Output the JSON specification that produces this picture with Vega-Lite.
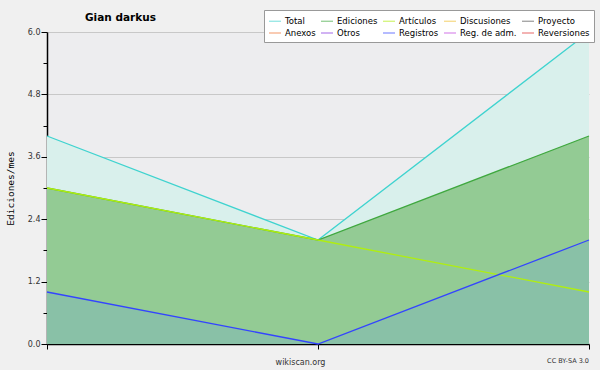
{
  "$schema": "https://vega.github.io/schema/vega-lite/v6.json",
  "autosize": "none",
  "width": 542,
  "height": 312,
  "padding": {"left": 47, "top": 32, "right": 11, "bottom": 26},
  "background": "#f0f0f0",
  "config": {
    "view": {"fill": "#ededef", "stroke": null},
    "font": "DejaVu Sans"
  },
  "title": {
    "text": "Gian darkus",
    "anchor": "start",
    "frame": "group",
    "dx": 38,
    "offset": -24,
    "baseline": "bottom",
    "fontSize": 10.5,
    "fontWeight": "bold",
    "color": "#000000"
  },
  "data": {
    "values": [
      {"serie": "Total", "x": 0, "v": 4},
      {"serie": "Total", "x": 1, "v": 2},
      {"serie": "Total", "x": 2, "v": 6},
      {"serie": "Ediciones", "x": 0, "v": 3},
      {"serie": "Ediciones", "x": 1, "v": 2},
      {"serie": "Ediciones", "x": 2, "v": 4},
      {"serie": "Artículos", "x": 0, "v": 3},
      {"serie": "Artículos", "x": 1, "v": 2},
      {"serie": "Artículos", "x": 2, "v": 1},
      {"serie": "Registros", "x": 0, "v": 1},
      {"serie": "Registros", "x": 1, "v": 0},
      {"serie": "Registros", "x": 2, "v": 2}
    ]
  },
  "encoding": {
    "x": {
      "field": "x",
      "type": "quantitative",
      "scale": {"domain": [0, 2], "nice": false, "zero": false},
      "axis": {
        "values": [0, 1, 2],
        "labels": false,
        "grid": false,
        "ticks": true,
        "tickSize": 5,
        "tickColor": "#000000",
        "domainColor": "#000000",
        "domainWidth": 1.5,
        "title": "wikiscan.org",
        "titleFont": "DejaVu Sans",
        "titleFontWeight": "normal",
        "titleFontSize": 8,
        "titleColor": "#333333",
        "titleX": 253,
        "titleAnchor": "middle",
        "titlePadding": 9
      }
    },
    "y": {
      "field": "v",
      "type": "quantitative",
      "scale": {"domain": [0, 6], "nice": false},
      "axis": {
        "values": [0, 0.6, 1.2, 1.8, 2.4, 3.0, 3.6, 4.2, 4.8, 5.4, 6.0],
        "labelExpr": "abs(datum.value/1.2 - round(datum.value/1.2)) < 0.01 ? format(datum.value, '.1f') : ''",
        "labelFontSize": 8,
        "labelColor": "#333333",
        "labelPadding": 1,
        "grid": true,
        "gridColor": "#c8c8c8",
        "gridOpacity": {"condition": {"test": "abs(datum.value/1.2 - round(datum.value/1.2)) < 0.01 && datum.value > 0", "value": 1}, "value": 0},
        "tickColor": "#000000",
        "tickSize": {"condition": {"test": "abs(datum.value/1.2 - round(datum.value/1.2)) < 0.01", "value": 6}, "value": 4},
        "domainColor": "#000000",
        "domainWidth": 1.5,
        "title": "Ediciones/mes",
        "titleFont": "DejaVu Sans Mono",
        "titleFontWeight": "normal",
        "titleFontSize": 9.5,
        "titleColor": "#000000",
        "titlePadding": 12
      }
    }
  },
  "layer": [
    {
      "transform": [{"filter": "datum.serie === 'Total'"}],
      "mark": {"type": "area", "color": "#d9f0ec", "opacity": 1}
    },
    {
      "transform": [{"filter": "datum.serie === 'Ediciones'"}],
      "mark": {"type": "area", "color": "#93cb94", "opacity": 1}
    },
    {
      "transform": [{"filter": "datum.serie === 'Registros'"}],
      "mark": {"type": "area", "color": "#89c1a7", "opacity": 1}
    },
    {
      "mark": {"type": "line", "strokeWidth": 1.3},
      "encoding": {
        "color": {
          "field": "serie",
          "type": "nominal",
          "scale": {
            "domain": ["Total", "Ediciones", "Artículos", "Discusiones", "Proyecto", "Anexos", "Otros", "Registros", "Reg. de adm.", "Reversiones"],
            "range": ["#3fd3cf", "#3fa83f", "#b0ee10", "#f0c030", "#555555", "#f07030", "#8030e0", "#3344ff", "#c040e0", "#e03030"]
          },
          "legend": {
            "title": null,
            "orient": "none",
            "legendX": 217,
            "legendY": -22,
            "direction": "horizontal",
            "columns": 5,
            "symbolType": "stroke",
            "symbolSize": 144,
            "symbolStrokeWidth": 1.2,
            "symbolOpacity": 0.6,
            "labelFontSize": 8.5,
            "labelColor": "#000000",
            "labelOffset": 3,
            "columnPadding": 2,
            "rowPadding": 0,
            "padding": 4,
            "fillColor": "#ffffff",
            "strokeColor": "#999999"
          }
        },
        "order": {"value": 0}
      }
    },
    {
      "data": {"values": [{"label": "CC BY-SA 3.0", "x": 2, "v": 0}]},
      "mark": {"type": "text", "align": "right", "baseline": "middle", "dy": 17, "fontSize": 6.5, "color": "#333333"},
      "encoding": {
        "text": {"field": "label"}
      }
    }
  ]
}
